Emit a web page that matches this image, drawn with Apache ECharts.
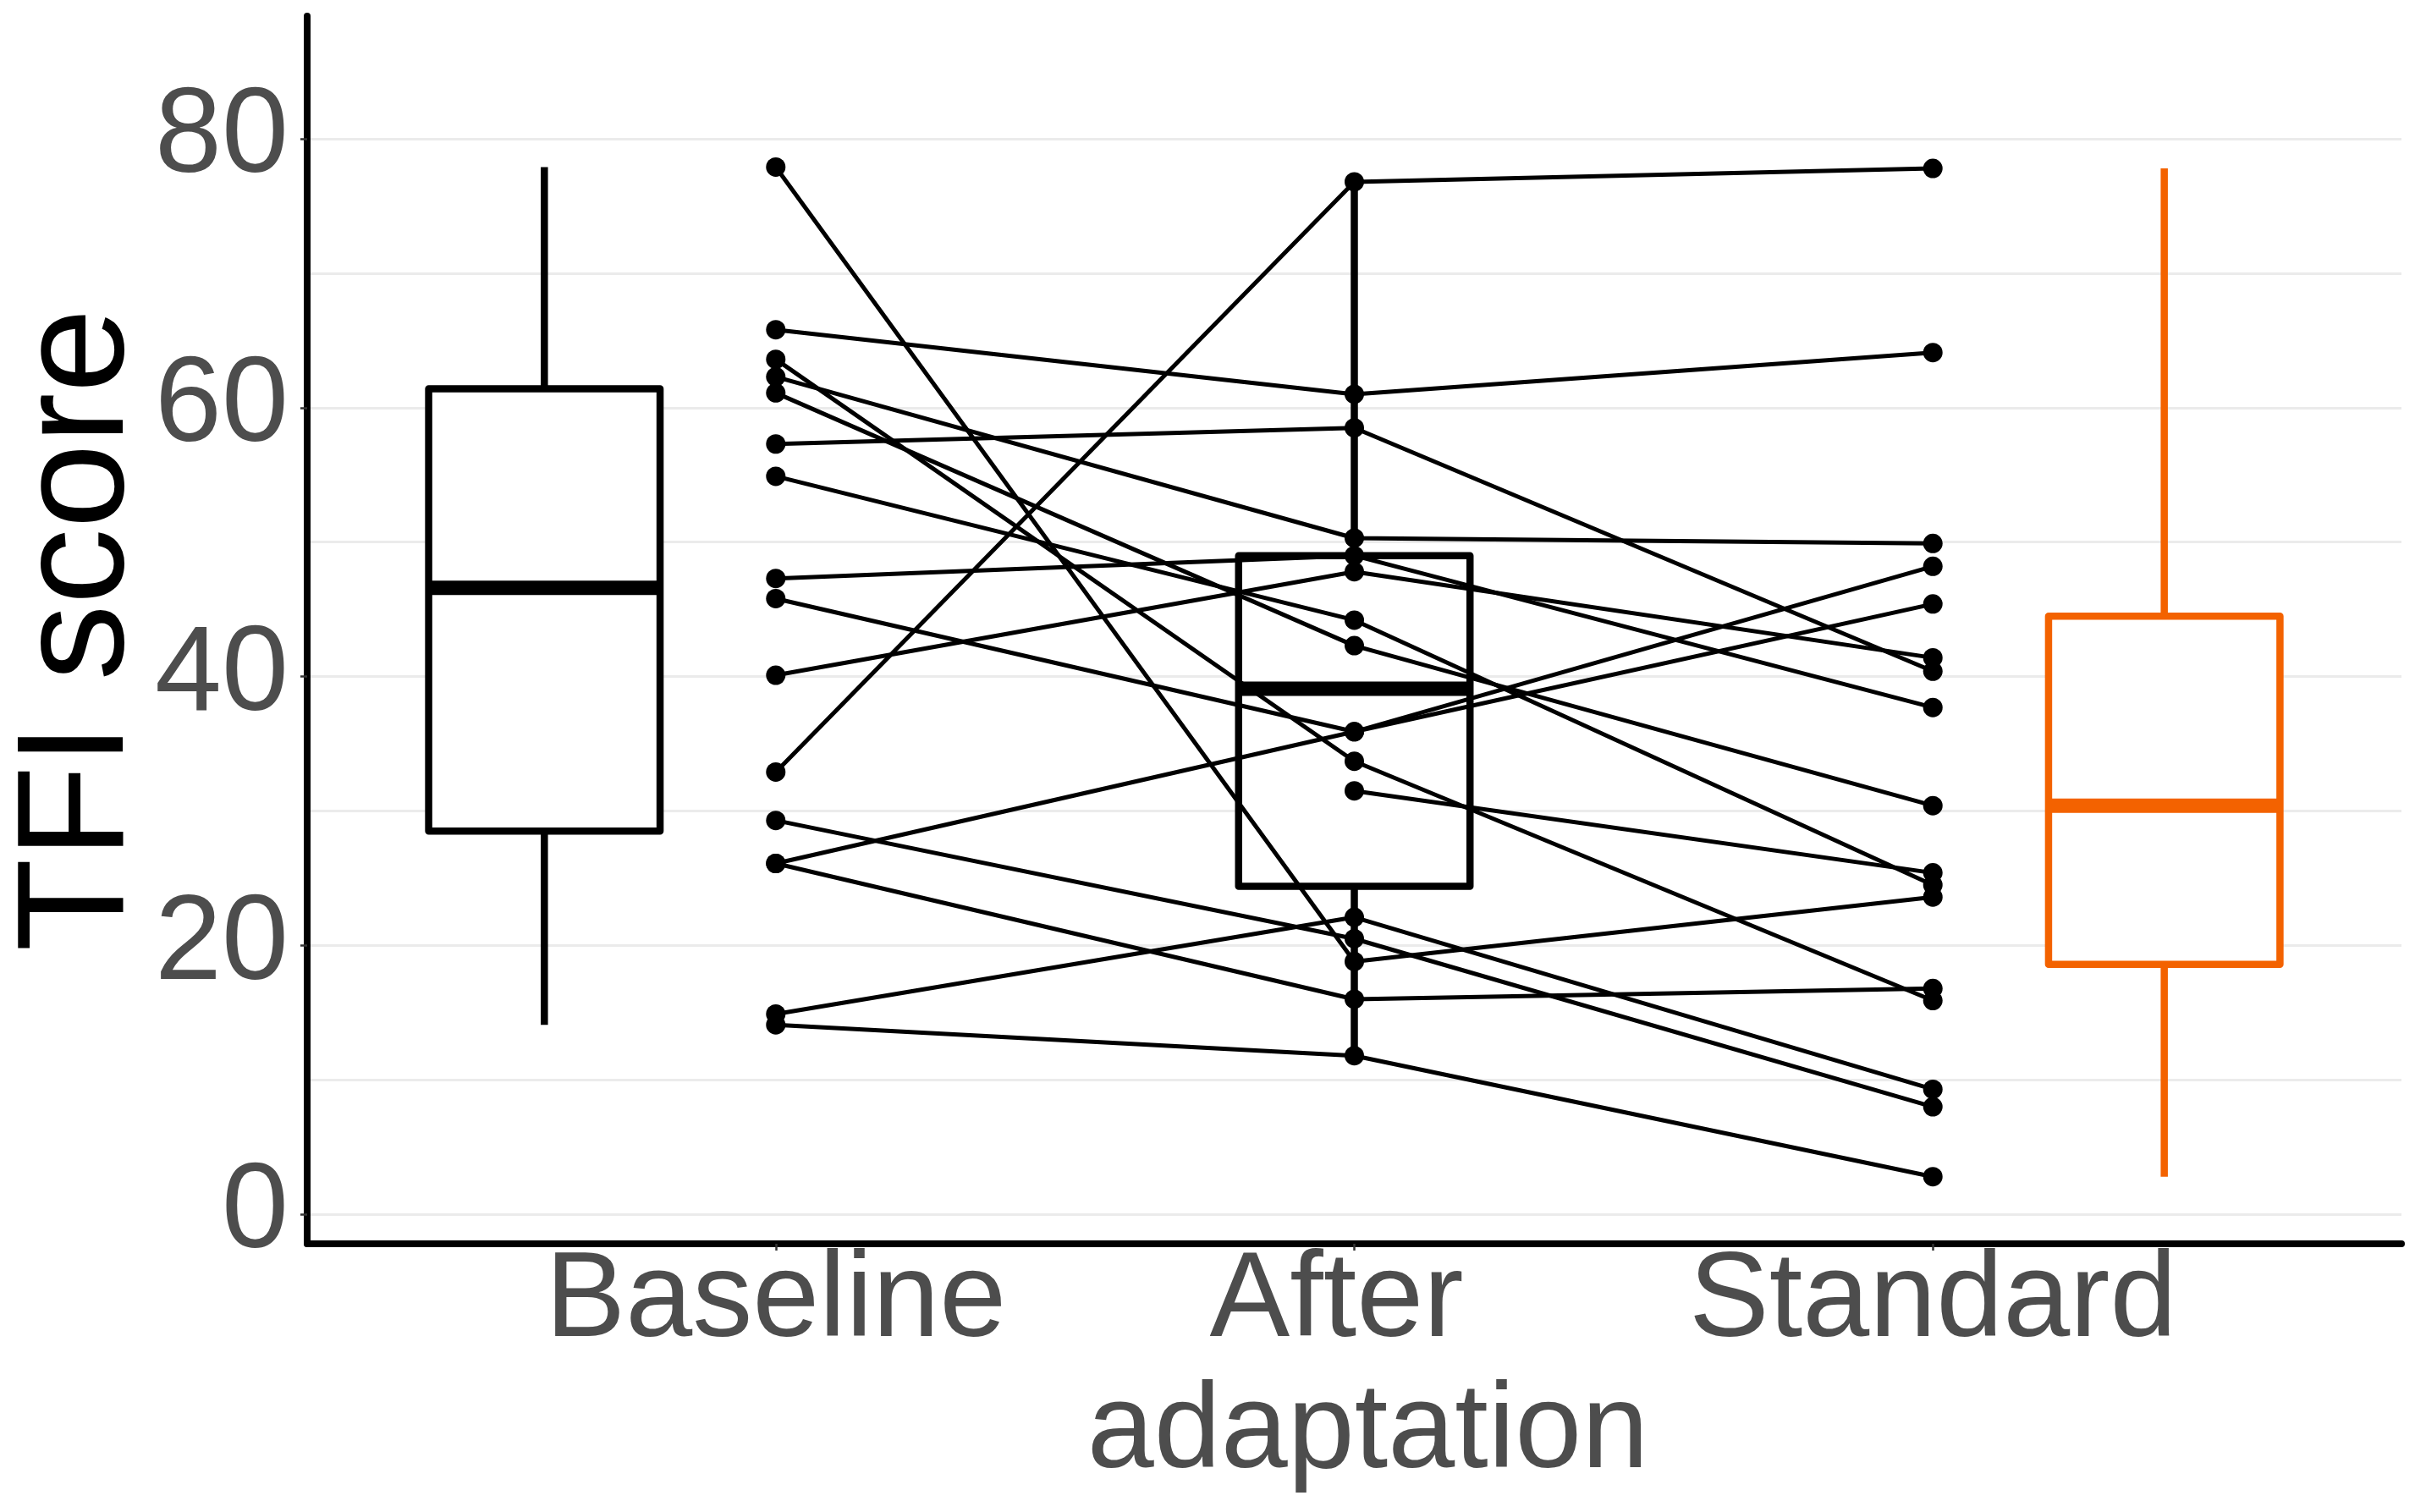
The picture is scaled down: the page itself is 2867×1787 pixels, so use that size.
<!DOCTYPE html>
<html>
<head>
<meta charset="utf-8">
<script src="https://cdn.jsdelivr.net/npm/echarts@6/dist/echarts.min.js"></script>
<style>
  html, body { margin: 0; padding: 0; background: #ffffff; }
  #chart { width: 2867px; height: 1787px; }
</style>
</head>
<body>
<div id="chart"></div>
<script>
// ---------------- data ----------------
const categories = ['Baseline', 'After\nadaptation', 'Standard'];
const yTicks = [0, 20, 40, 60, 80];
const yMinorGrid = [10, 30, 50, 70];

// paired TFI scores per participant (null = missing)
const baseline = [77.9, 65.8, 63.6, 62.3, 61.1, 57.3, 54.9, 47.3, 45.8, 40.1, 32.9, 29.3, 26.1, 26.1, 14.9, 14.1, null];
const after    = [18.8, 61.0, 33.7, 50.3, 42.3, 58.5, 44.2, 49.0, 35.9, 47.8, 76.8, 20.5, 35.9, 16.0, 22.1, 11.8, 31.5];
const standard = [23.6, 64.1, 15.9, 49.9, 30.4, 40.4, 24.5, 37.7, 48.2, 41.4, 77.8,  8.0, 45.4, 16.8,  9.3,  2.8, 25.4];

// boxplot summaries
const boxGroups = ['Baseline', 'After adaptation', 'Standard'];
const boxMin    = [14.1, 11.8,  2.8];
const boxQ1     = [28.5, 24.4, 18.6];
const boxMedian = [46.6, 39.1, 30.4];
const boxQ3     = [61.4, 49.0, 44.5];
const boxMax    = [77.9, 76.8, 77.8];

// ---------------- layout / style ----------------
const boxOffset = [-0.4, 0, 0.4];
const boxWidth = 0.4;
const boxColor = ['#000000', '#000000', '#F36200'];
const FONT = '"Liberation Sans", Arial, Helvetica, sans-serif';
const boxLine = 8.5;

const chart = echarts.init(document.getElementById('chart'), null, { renderer: 'canvas' });

function renderBox(params, api) {
  const x = api.value(0);
  const c = api.visual('color');
  const tl = api.coord([x - boxWidth / 2, api.value(4)]);
  const br = api.coord([x + boxWidth / 2, api.value(2)]);
  const med = api.coord([x, api.value(3)]);
  const hi = api.coord([x, api.value(5)]);
  const lo = api.coord([x, api.value(1)]);
  return {
    type: 'group',
    children: [
      { type: 'line', shape: { x1: hi[0], y1: hi[1], x2: hi[0], y2: tl[1] }, style: { stroke: c, lineWidth: boxLine } },
      { type: 'line', shape: { x1: lo[0], y1: br[1], x2: lo[0], y2: lo[1] }, style: { stroke: c, lineWidth: boxLine } },
      { type: 'rect', shape: { x: tl[0], y: tl[1], width: br[0] - tl[0], height: br[1] - tl[1] },
        style: { fill: '#ffffff', stroke: c, lineWidth: boxLine, lineJoin: 'round' } },
      { type: 'line', shape: { x1: tl[0], y1: med[1], x2: br[0], y2: med[1] }, style: { stroke: c, lineWidth: boxLine * 2 } }
    ]
  };
}

const boxData = boxGroups.map((g, i) => ({
  name: g,
  value: [i + 1 + boxOffset[i], boxMin[i], boxQ1[i], boxMedian[i], boxQ3[i], boxMax[i]],
  itemStyle: { color: boxColor[i] }
}));

const pairSeries = baseline.map((b, i) => ({
  type: 'line',
  name: 'P' + (i + 1),
  data: [[1, b], [2, after[i]], [3, standard[i]]],
  xAxisIndex: 0,
  yAxisIndex: 0,
  symbol: 'circle',
  symbolSize: 23,
  showSymbol: true,
  connectNulls: false,
  itemStyle: { color: '#000000' },
  lineStyle: { color: '#000000', width: 5 },
  emphasis: { disabled: true },
  silent: true,
  z: 3,
  animation: false
}));

const labelRich = {
  l0: { fontSize: 142, fontFamily: FONT, color: '#4D4D4D', lineHeight: 155, padding: [0, 42, 0, 0] },
  l1: { fontSize: 142, fontFamily: FONT, color: '#4D4D4D', lineHeight: 155, padding: [0, 0, 0, 32] }
};

const option = {
  animation: false,
  backgroundColor: '#ffffff',
  textStyle: { fontFamily: FONT },
  grid: { left: 363, right: 29, top: 19, bottom: 317, containLabel: false, outerBoundsMode: 'none' },
  xAxis: {
    type: 'value',
    min: 0.19,
    max: 3.81,
    axisLine: { show: true, onZero: false, lineStyle: { color: '#000000', width: 8 } },
    axisTick: { show: true, customValues: [1, 2, 3], length: 8, lineStyle: { color: '#333333', width: 2.5 } },
    axisLabel: {
      show: true,
      customValues: [1, 2, 3],
      fontSize: 142,
      fontFamily: FONT,
      color: '#4D4D4D',
      lineHeight: 155,
      margin: -8,
      formatter: function (v) {
        const lab = categories[Math.round(v) - 1] || '';
        const lines = lab.split('\n');
        if (lines.length === 1) return lab;
        return lines.map((s, k) => '{l' + k + '|' + s + '}').join('\n');
      },
      rich: labelRich
    },
    splitLine: { show: false },
    minorSplitLine: { show: false }
  },
  yAxis: [
    {
      type: 'value',
      min: -2.19,
      max: 89.13,
      name: 'TFI score',
      nameLocation: 'middle',
      nameGap: 178,
      nameMoveOverlap: false,
      nameTextStyle: { fontSize: 180, fontFamily: FONT, color: '#000000' },
      axisLine: { show: true, onZero: false, lineStyle: { color: '#000000', width: 8 } },
      axisTick: { show: true, customValues: yTicks, length: 8, lineStyle: { color: '#333333', width: 2.5 } },
      axisLabel: { show: true, customValues: yTicks, fontSize: 142, fontFamily: FONT, color: '#4D4D4D', margin: 22 },
      splitLine: { show: true, lineStyle: { color: '#EBEBEB', width: 3 } }
    },
    {
      type: 'value',
      min: -2.19,
      max: 89.13,
      axisLine: { show: false },
      axisTick: { show: false, customValues: yMinorGrid },
      axisLabel: { show: false, customValues: yMinorGrid },
      splitLine: { show: true, lineStyle: { color: '#EBEBEB', width: 3 } }
    }
  ],
  series: [
    {
      type: 'custom',
      name: 'boxes',
      xAxisIndex: 0,
      yAxisIndex: 0,
      renderItem: renderBox,
      encode: { x: 0, y: [1, 2, 3, 4, 5] },
      data: boxData,
      z: 2,
      silent: true,
      animation: false
    }
  ].concat(pairSeries)
};

chart.setOption(option);
</script>
</body>
</html>
